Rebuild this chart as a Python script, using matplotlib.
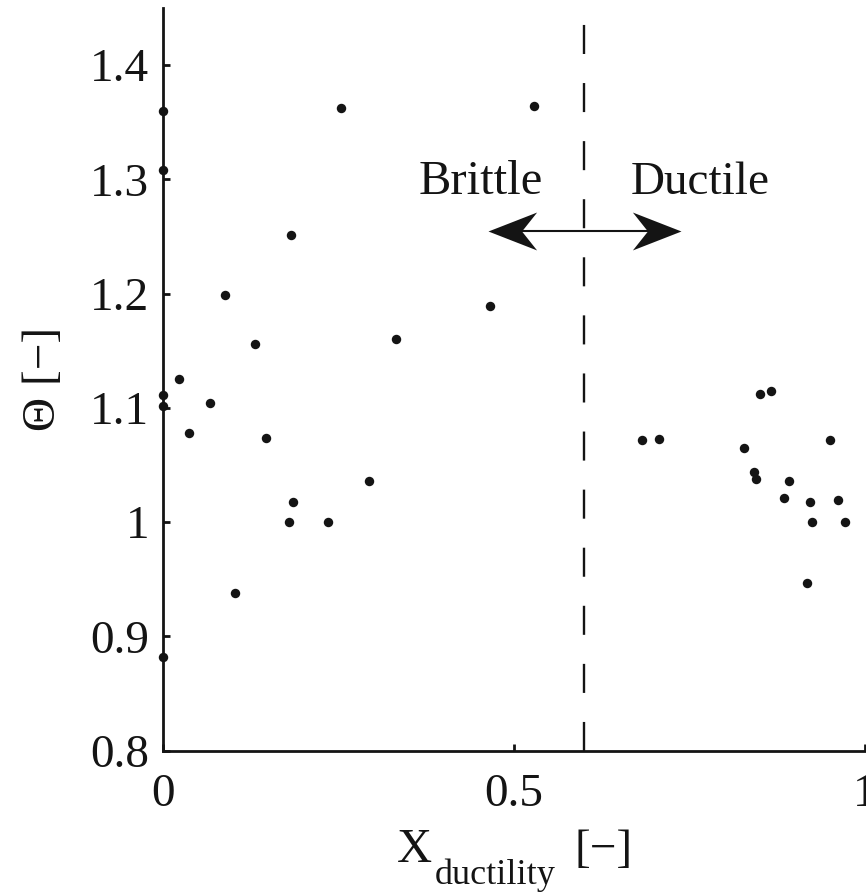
import matplotlib
matplotlib.use("Agg")
import matplotlib.pyplot as plt
import numpy as np
from matplotlib.path import Path

# ---------------- data ----------------
x_ductility = [0.0, 0.0, 0.0, 0.0, 0.0,
               0.0233, 0.0674, 0.0366, 0.0878, 0.131, 0.147, 0.185, 0.1795,
               0.1026, 0.183, 0.253, 0.2355, 0.293, 0.3323, 0.4654, 0.5285,
               0.6823, 0.7066, 0.851, 0.8667, 0.827, 0.950, 0.8415, 0.8443,
               0.8917, 0.8846, 0.922, 0.9615, 0.924, 0.971, 0.9174]
theta = [1.360, 1.308, 1.111, 1.102, 0.882,
         1.125, 1.104, 1.078, 1.199, 1.156, 1.074, 1.0175, 1.000,
         0.938, 1.251, 1.3625, 1.000, 1.0364, 1.1602, 1.1894, 1.364,
         1.0715, 1.0727, 1.1124, 1.1144, 1.0653, 1.0723, 1.0443, 1.0377,
         1.0356, 1.0215, 1.0175, 1.0193, 1.0005, 1.0005, 0.9466]

threshold = 0.6
arrow_half = 0.1375
arrow_y = 1.255
x_ticks = [0, 0.5, 1]
x_tick_labels = ["0", "0.5", "1"]
y_ticks = [0.8, 0.9, 1.0, 1.1, 1.2, 1.3, 1.4]
y_tick_labels = ["0.8", "0.9", "1", "1.1", "1.2", "1.3", "1.4"]

# ---------------- style ----------------
plt.rcParams['font.family'] = ['Liberation Serif', 'DejaVu Serif']

ink = '#141414'
fs = 34
W, H = 866, 894

fig = plt.figure(figsize=(W / 100, H / 100), dpi=100)
ax = fig.add_axes([163 / W, (H - 750.7) / H, 702 / W, (750.7 - 8) / H])

ax.scatter(x_ductility, theta, s=6.8 ** 2, color=ink, zorder=3, clip_on=False,
           linewidths=0)

ax.axvline(threshold, color=ink, lw=1.7, dashes=(12.3, 12.3), zorder=2)

# double arrow with stealth heads
stealth_left = Path([(0, 0), (1, 0.39), (0.69, 0), (1, -0.39), (0, 0)],
                    [Path.MOVETO, Path.LINETO, Path.LINETO, Path.LINETO, Path.CLOSEPOLY])
stealth_right = Path([(0, 0), (-1, 0.39), (-0.69, 0), (-1, -0.39), (0, 0)],
                     [Path.MOVETO, Path.LINETO, Path.LINETO, Path.LINETO, Path.CLOSEPOLY])
ax.plot([threshold - arrow_half + 0.02, threshold + arrow_half - 0.02],
        [arrow_y, arrow_y], color=ink, lw=1.5, zorder=4)
ax.plot([threshold - arrow_half], [arrow_y], marker=stealth_left, ms=70,
        color=ink, mec=ink, mew=0, ls='none', zorder=5)
ax.plot([threshold + arrow_half], [arrow_y], marker=stealth_right, ms=70,
        color=ink, mec=ink, mew=0, ls='none', zorder=5)

ax.text(0.453, 1.287, "Brittle", fontsize=fs + 1, color=ink, ha='center', va='baseline')
ax.text(0.765, 1.287, "Ductile", fontsize=fs, color=ink, ha='center', va='baseline')

ax.set_xlim(0, 1)
ax.set_ylim(0.8, 1.45)
ax.set_xticks(x_ticks)
ax.set_xticklabels(x_tick_labels)
ax.set_yticks(y_ticks)
ax.set_yticklabels(y_tick_labels)

for s in ['top', 'right']:
    ax.spines[s].set_visible(False)
for s in ['left', 'bottom']:
    ax.spines[s].set_linewidth(2.0)
    ax.spines[s].set_color(ink)

ax.tick_params(direction='in', length=5, width=2.0, colors=ink,
               labelsize=fs, pad=10)
ax.tick_params(axis='x', pad=16.5)

ax.set_ylabel("Θ [−]", fontsize=fs, color=ink, labelpad=18)

# x label: X with lowered subscript "ductility" and unit
def fx(px):
    return px / W
def fy(py):
    return 1 - py / H

fig.text(fx(397), fy(862), "X", fontsize=fs + 1, color=ink, ha='left', va='baseline')
fig.text(fx(435), fy(884), "ductility", fontsize=26, color=ink, ha='left', va='baseline')
fig.text(fx(574), fy(862), "[−]", fontsize=fs, color=ink, ha='left', va='baseline')

fig.savefig("out.png", dpi=100)
